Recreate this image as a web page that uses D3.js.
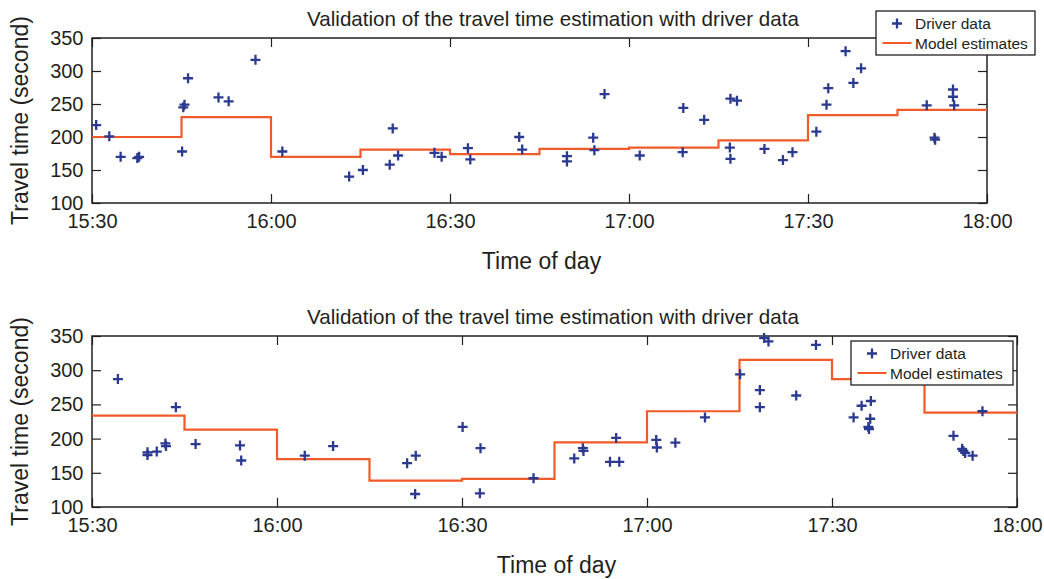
<!DOCTYPE html>
<html>
<head>
<meta charset="utf-8">
<script src="https://cdn.jsdelivr.net/npm/d3@7"></script>
<style>
    body { margin: 0; background: #fff; }
    svg text { font-family: "Liberation Sans", Arial, sans-serif; fill: #231f20; }
</style>
</head>
<body>
<div id="chart"></div>
<script>

// ---- data (times are minutes after 15:30) ----
let timeTicks = ["15:30", "16:00", "16:30", "17:00", "17:30", "18:00"];
let valueTicks = [100, 150, 200, 250, 300, 350];
let stepStarts = [0, 15, 30, 45, 60, 75, 90, 105, 120, 135];

let topTimes = [0.7, 2.9, 4.8, 7.6, 7.9, 15.1, 15.3, 15.5, 16.1, 21.2, 22.9, 27.4, 31.9,
    43.1, 45.4, 49.9, 50.4, 51.3, 57.4, 58.6, 63.0, 63.4, 71.6, 72.1, 79.6, 79.6, 84.0, 84.2,
    85.9, 91.8, 99.0, 99.1, 102.6, 106.9, 107.0, 107.0, 108.1, 112.7, 115.8, 117.4, 121.4,
    123.1, 123.4, 126.3, 127.6, 128.9, 139.9, 141.2, 141.3, 144.3, 144.3, 144.5];
let topValues = [218, 201, 170, 168, 170, 178, 245, 249, 289, 260, 254, 317, 178,
    140, 150, 158, 213, 172, 176, 170, 183, 166, 200, 181, 171, 163, 199, 180,
    265, 172, 177, 244, 226, 184, 167, 258, 255, 182, 165, 177, 208,
    249, 274, 330, 282, 304, 248, 199, 196, 272, 261, 248];
let topModel = [200, 230, 170, 181, 174, 182, 184, 195, 233, 241];

let bottomTimes = [4.2, 9.0, 9.0, 10.5, 11.9, 12.0, 13.6, 16.8, 24.0, 24.2, 34.5, 39.1,
    51.1, 52.5, 52.4, 60.1, 63.0, 62.9, 71.6, 78.2, 79.6, 79.7, 84.0, 85.5, 85.0, 91.5, 91.6,
    94.6, 99.4, 105.1, 108.3, 108.3, 109.0, 109.7, 114.2, 117.4, 123.5, 124.8, 126.3, 126.2,
    125.9, 126.0, 139.7, 141.1, 141.3, 141.6, 142.8, 144.4];
let bottomValues = [287, 180, 176, 181, 193, 189, 246, 192, 190, 168, 175, 189,
    164, 175, 119, 217, 186, 120, 142, 171, 186, 182, 166, 166, 201, 198, 187,
    194, 231, 294, 271, 246, 347, 342, 263, 337, 231, 248, 255, 229,
    217, 214, 204, 185, 182, 179, 175, 240];
let bottomModel = [233.5, 213, 170, 138.5, 141, 194.5, 240, 315, 287, 238];

let chartTitle = "Validation of the travel time estimation with driver data";
let legendLabels = ["Driver data", "Model estimates"];


class TravelTimeVis {

    constructor(svg, layout, times, values, model) {
        this.svg = svg;
        this.layout = layout;
        this.times = times;
        this.values = values;
        this.model = model;

        this.parseTime = d3.timeParse("%H:%M");
        this.start = this.parseTime(timeTicks[0]);

        this.initVis();
    }

    initVis() {
        let vis = this;
        let L = vis.layout;

        vis.g = vis.svg.append("g");

        vis.x = d3.scaleTime()
            .domain([vis.parseTime(timeTicks[0]), vis.parseTime(timeTicks[timeTicks.length - 1])])
            .range([L.left, L.right]);

        vis.y = d3.scaleLinear()
            .domain([valueTicks[0], valueTicks[valueTicks.length - 1]])
            .range([L.bottom, L.top]);

        vis.wrangleData();
    }

    wrangleData() {
        let vis = this;

        let toDate = m => new Date(vis.start.getTime() + m * 60000);

        vis.points = vis.times.map((t, i) => ({date: toDate(t), value: vis.values[i]}));

        vis.steps = stepStarts.map((s, i) => ({date: toDate(s), value: vis.model[i]}));
        vis.steps.push({date: vis.x.domain()[1], value: vis.model[vis.model.length - 1]});

        vis.updateVis();
    }

    updateVis() {
        let vis = this;
        let L = vis.layout;
        let tickDates = timeTicks.map(vis.parseTime);

        // axes with inward ticks on all four sides
        let xBottom = d3.axisBottom(vis.x).tickValues(tickDates)
            .tickFormat(d3.timeFormat("%H:%M")).tickSize(-9).tickPadding(11);
        let xTop = d3.axisTop(vis.x).tickValues(tickDates).tickFormat("").tickSize(-9);
        let yLeft = d3.axisLeft(vis.y).tickValues(valueTicks).tickSize(-9).tickPadding(8.5);
        let yRight = d3.axisRight(vis.y).tickValues(valueTicks).tickFormat("").tickSize(-9);

        let axes = [
            [xBottom, `translate(0,${L.bottom})`],
            [xTop, `translate(0,${L.top})`],
            [yLeft, `translate(${L.left},0)`],
            [yRight, `translate(${L.right},0)`]
        ];
        axes.forEach(a => {
            let ax = vis.g.append("g").attr("transform", a[1]).call(a[0]);
            ax.select(".domain").remove();
            ax.selectAll("line").attr("stroke", "#231f20").attr("stroke-width", 1.2);
            ax.selectAll("text").style("font-size", "20px").attr("fill", "#231f20");
        });

        vis.g.append("rect")
            .attr("x", L.left)
            .attr("y", L.top)
            .attr("width", L.right - L.left)
            .attr("height", L.bottom - L.top)
            .attr("fill", "none")
            .attr("stroke", "#231f20")
            .attr("stroke-width", 1.5);

        // model estimates step line
        let line = d3.line()
            .x(d => vis.x(d.date))
            .y(d => vis.y(d.value))
            .curve(d3.curveStepAfter);

        vis.g.append("path")
            .datum(vis.steps)
            .attr("d", line)
            .attr("fill", "none")
            .attr("stroke", "#f15a29")
            .attr("stroke-width", 2.2);

        // driver data markers
        vis.g.selectAll(".marker")
            .data(vis.points)
            .enter()
            .append("path")
            .attr("class", "marker")
            .attr("d", "M-5,0H5M0,-5V5")
            .attr("transform", d => `translate(${vis.x(d.date)},${vis.y(d.value)})`)
            .attr("stroke", "#2b3990")
            .attr("stroke-width", 2.3)
            .attr("fill", "none");

        // title and axis labels
        vis.g.append("text")
            .attr("x", L.titleX)
            .attr("y", L.top - 12)
            .attr("text-anchor", "middle")
            .style("font-size", "20.6px")
            .text(chartTitle);

        vis.g.append("text")
            .attr("x", (L.left + L.right) / 2 + 2)
            .attr("y", L.bottom + 66)
            .attr("text-anchor", "middle")
            .style("font-size", "23px")
            .text("Time of day");

        vis.g.append("text")
            .attr("transform", `translate(28,${(L.top + L.bottom) / 2}) rotate(-90)`)
            .attr("text-anchor", "middle")
            .style("font-size", "23px")
            .text("Travel time (second)");

        // legend
        let lg = vis.g.append("g")
            .attr("transform", `translate(${L.legend.x},${L.legend.y})`);

        lg.append("rect")
            .attr("width", L.legend.w)
            .attr("height", 44)
            .attr("fill", "#fff")
            .attr("stroke", "#231f20")
            .attr("stroke-width", 1.3);

        lg.append("path")
            .attr("d", "M-5,0H5M0,-5V5")
            .attr("transform", "translate(21,12.5)")
            .attr("stroke", "#2b3990")
            .attr("stroke-width", 2.3);

        lg.append("line")
            .attr("x1", 6.5).attr("x2", 35.5)
            .attr("y1", 32).attr("y2", 32)
            .attr("stroke", "#f15a29")
            .attr("stroke-width", 2);

        lg.selectAll(".legend-label")
            .data(legendLabels)
            .enter()
            .append("text")
            .attr("class", "legend-label")
            .attr("x", 39)
            .attr("y", (d, i) => 18 + i * 19.5)
            .style("font-size", "15.5px")
            .text(d => d);
    }
}

let svg = d3.select("#chart").append("svg")
    .attr("width", 1044)
    .attr("height", 579);

new TravelTimeVis(svg,
    {left: 92, right: 987, top: 38, bottom: 203, titleX: 553,
        legend: {x: 876, y: 11, w: 159}},
    topTimes, topValues, topModel);

new TravelTimeVis(svg,
    {left: 92, right: 1017, top: 336, bottom: 507, titleX: 553,
        legend: {x: 851, y: 341, w: 162}},
    bottomTimes, bottomValues, bottomModel);

</script>
</body>
</html>
